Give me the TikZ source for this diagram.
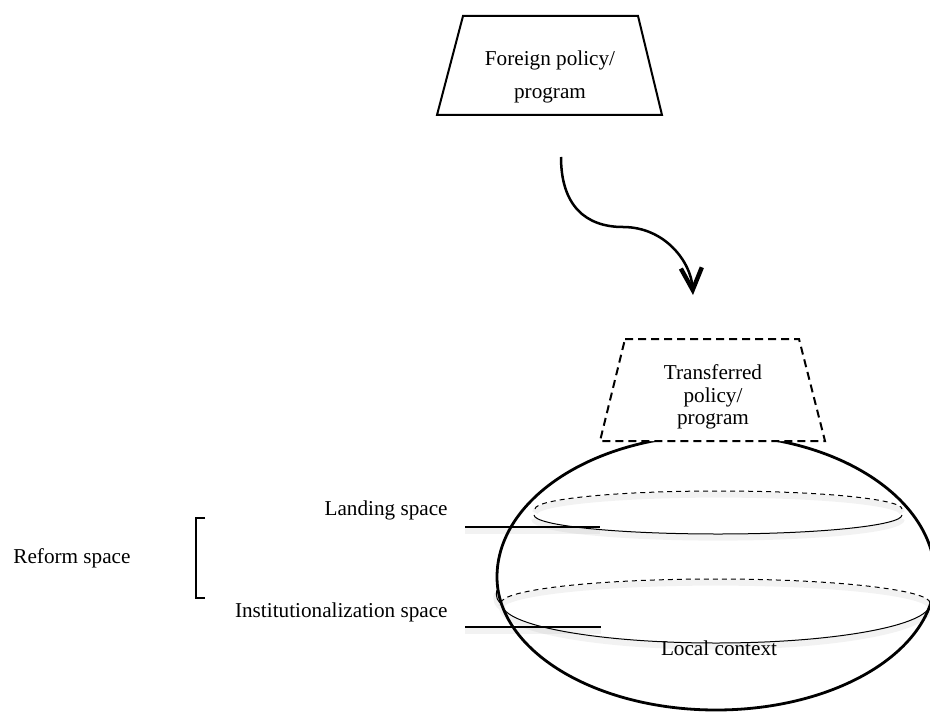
\documentclass[tikz,border=0pt]{standalone}
\usepackage{fontspec}
\setmainfont{Liberation Serif}
\usetikzlibrary{arrows.meta}

\begin{document}
\begin{tikzpicture}[x=0.5pt,y=-0.5pt,
  lbl/.style={inner sep=0pt, font=\fontsize{10.6}{12}\selectfont},
  boxline/.style={line width=1pt, line join=miter},
  dashbox/.style={line width=1pt, dash pattern=on 4pt off 2.5pt, fill=white},
  outline/.style={line width=1.4pt},
  ring/.style={line width=0.5pt},
  ringback/.style={line width=0.5pt, dash pattern=on 2.5pt off 2pt},
  softshadow/.style={preaction={draw=black, opacity=0.05, line width=3pt,
      transform canvas={yshift=-1.8pt}}},
  leader/.style={line width=0.8pt, softshadow},
  flow/.style={line width=1.25pt, -{Straight Barb[length=11pt,width=10.5pt,line width=2.2pt]}}
]
\useasboundingbox (0,0) rectangle (930,711);
\clip (0,0) rectangle (930,711);

% source policy box
\draw[boxline] (463,16) -- (638,16) -- (662,115) -- (437,115) -- cycle;
\node[lbl, align=center, font=\fontsize{10.6}{16.5}\selectfont] (foreign) at (550,77)
  {Foreign policy/\\program};

% transfer arrow
\coordinate (arrS) at (561,157);
\coordinate (arrE) at (693,295);
\draw[flow] (arrS) .. controls (561,205) and (585,227) .. (623,227)
  .. controls (665,227) and (691,262) .. (arrE);

% local context body
\draw[outline] (497,577) arc[start angle=180, end angle=360, x radius=219, y radius=142]
  arc[start angle=0, end angle=180, x radius=219, y radius=133];

% landing ring
\draw[ringback, softshadow] (535,509) arc[start angle=180, end angle=360, x radius=183.5, y radius=18];
\draw[ring, softshadow] (534,515) arc[start angle=180, end angle=0, x radius=184, y radius=19];

% institutionalization ring
\draw[ringback, softshadow] (501,603) arc[start angle=180, end angle=360, x radius=214.5, y radius=24];
\draw[ring, softshadow] (497,590) .. controls (495,597) and (498,602) .. (502,604)
  arc[start angle=180, end angle=0, x radius=214, y radius=39];

% transferred policy box (covers the top of the body)
\draw[dashbox] (625,339) -- (799,339) -- (825,441) -- (600,441) -- cycle;
\node[lbl, align=center, font=\fontsize{10.6}{11.2}\selectfont] (transferred) at (713,397)
  {Transferred\\policy/\\program};

% space labels and leaders
\node[lbl, anchor=east] (landing) at (448,510) {Landing space};
\node[lbl, anchor=east] (inst) at (448,612) {Institutionalization space};
\node[lbl, anchor=west] (reform) at (13,558) {Reform space};
\node[lbl] (local) at (719,648) {Local context};

\coordinate (l1a) at (465,527);
\coordinate (l1b) at (600,527);
\coordinate (l2a) at (465,627);
\coordinate (l2b) at (601,627);
\draw[leader] (l1a) -- (l1b);
\draw[leader] (l2a) -- (l2b);

% reform bracket
\coordinate (brT) at (205,518);
\coordinate (brB) at (205,598);
\draw[line width=0.8pt] (brT) -- (196,518) -- (196,598) -- (brB);
\end{tikzpicture}
\end{document}
